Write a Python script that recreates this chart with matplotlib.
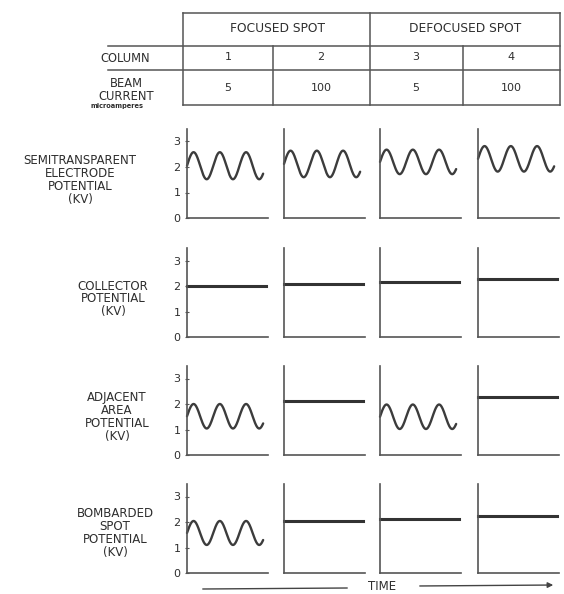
import numpy as np
import matplotlib
matplotlib.use("Agg")
import matplotlib.pyplot as plt

# ---------------- data ----------------
SPOT_GROUPS = ["FOCUSED SPOT", "DEFOCUSED SPOT"]
COLUMNS = ["1", "2", "3", "4"]
BEAM_CURRENT = ["5", "100", "5", "100"]
ROW_LABELS = [
    "SEMITRANSPARENT\nELECTRODE\nPOTENTIAL\n(KV)",
    "COLLECTOR\nPOTENTIAL\n(KV)",
    "ADJACENT\nAREA\nPOTENTIAL\n(KV)",
    "BOMBARDED\nSPOT\nPOTENTIAL\n(KV)",
]
Y_TICKS = [0, 1, 2, 3]
Y_TICK_LABELS = ["0", "1", "2", "3"]

# mean level (kV) of each trace, per row, per column
semitransparent_level = [2.05, 2.12, 2.20, 2.32]
collector_level = [2.00, 2.07, 2.17, 2.28]
adjacent_level = [1.52, 2.12, 1.50, 2.26]
bombarded_level = [1.57, 2.05, 2.12, 2.22]
# oscillation amplitude (kV), 0 = steady potential
semitransparent_amp = [0.53, 0.52, 0.48, 0.50]
collector_amp = [0.0, 0.0, 0.0, 0.0]
adjacent_amp = [0.48, 0.0, 0.48, 0.0]
bombarded_amp = [0.47, 0.0, 0.0, 0.0]
CYCLES = 2.9

LEVELS = [semitransparent_level, collector_level, adjacent_level, bombarded_level]
AMPS = [semitransparent_amp, collector_amp, adjacent_amp, bombarded_amp]

# ---------------- layout (pixels) ----------------
W, H = 564, 594
INK = "#2e2e2e"
LINE = "#3c3c3c"
fig = plt.figure(figsize=(W / 100, H / 100), dpi=100)
fig.patch.set_facecolor("white")

col_x = [187, 284, 380, 478]
row_zero = [218, 337, 455, 573]
panel_w = 81
unit_px = 25.5
ymax = 3.5
label_cx = [80, 113, 117, 115]
label_cy = [180, 299, 417, 533]

font = dict(family="DejaVu Sans", color=INK)

for r in range(4):
    for c in range(4):
        x0 = col_x[c]
        y0 = row_zero[r]
        hpx = ymax * unit_px
        ax = fig.add_axes([x0 / W, 1 - y0 / H, panel_w / W, hpx / H])
        ax.set_xlim(0, 1)
        ax.set_ylim(0, ymax)
        ax.patch.set_alpha(0)
        for s in ("top", "right"):
            ax.spines[s].set_visible(False)
        for s in ("left", "bottom"):
            ax.spines[s].set_color("#555555")
            ax.spines[s].set_linewidth(1.2)
        ax.set_xticks([])
        if c == 0:
            ax.set_yticks(Y_TICKS)
            ax.set_yticklabels(Y_TICK_LABELS, fontsize=8, **font)
            ax.tick_params(axis="y", length=2.5, width=0.8, pad=3.5,
                           color="#555555", direction="inout")
        else:
            ax.set_yticks([])
        lvl = LEVELS[r][c]
        amp = AMPS[r][c]
        if amp > 0:
            xs = np.linspace(0, 0.94, 300)
            ys = lvl + amp * np.sin(2 * np.pi * CYCLES * xs / 0.94)
            ax.plot(xs, ys, color=LINE, lw=1.7, solid_capstyle="round",
                    clip_on=False)
        else:
            ax.plot([0, 0.98], [lvl, lvl], color="#333333", lw=2.2,
                    clip_on=False)
    fig.text(label_cx[r] / W, 1 - label_cy[r] / H, ROW_LABELS[r],
             ha="center", va="center", fontsize=8.5, linespacing=0.98,
             **font)

# ---------------- table and overlay ----------------
ov = fig.add_axes([0, 0, 1, 1])
ov.set_xlim(0, W)
ov.set_ylim(H, 0)
ov.axis("off")
ov.patch.set_alpha(0)

tl = dict(color="#555555", lw=1.1)
top, div1, div2, bot = 13, 46, 70, 105
left, right = 183, 560
ov.plot([left, right], [top, top], **tl)
ov.plot([108, right], [div1, div1], **tl)
ov.plot([108, right], [div2, div2], **tl)
ov.plot([left, right], [bot, bot], **tl)
ov.plot([left, left], [top, bot], **tl)
ov.plot([right, right], [top, bot], **tl)
ov.plot([370, 370], [top, bot], **tl)
ov.plot([273, 273], [div1, bot], **tl)
ov.plot([463, 463], [div1, bot], **tl)

group_cx = [277, 465]
for g, txt in enumerate(SPOT_GROUPS):
    ov.text(group_cx[g], 28, txt, ha="center", va="center", fontsize=8.8, **font)
cell_cx = [228, 321, 416, 511]
for c in range(4):
    ov.text(cell_cx[c], 57, COLUMNS[c], ha="center", va="center", fontsize=8, **font)
    ov.text(cell_cx[c], 88, BEAM_CURRENT[c], ha="center", va="center", fontsize=8, **font)

ov.text(125, 59, "COLUMN", ha="center", va="center", fontsize=8.3, **font)
ov.text(126, 90, "BEAM\nCURRENT", ha="center", va="center", fontsize=8.3,
        linespacing=0.95, **font)
ov.text(117, 106, "microamperes", ha="center", va="center", fontsize=4.8,
        fontweight="bold", **font)

# time axis arrow
ov.plot([203, 347], [589, 588], color="#444444", lw=1.0)
ov.annotate("", xy=(556, 585), xytext=(417, 586),
            arrowprops=dict(arrowstyle="-|>", color="#444444", lw=1.0,
                            mutation_scale=8))
ov.text(382, 587, "TIME", ha="center", va="center", fontsize=8.5, **font)

fig.savefig("out.png", dpi=100, facecolor="white")
